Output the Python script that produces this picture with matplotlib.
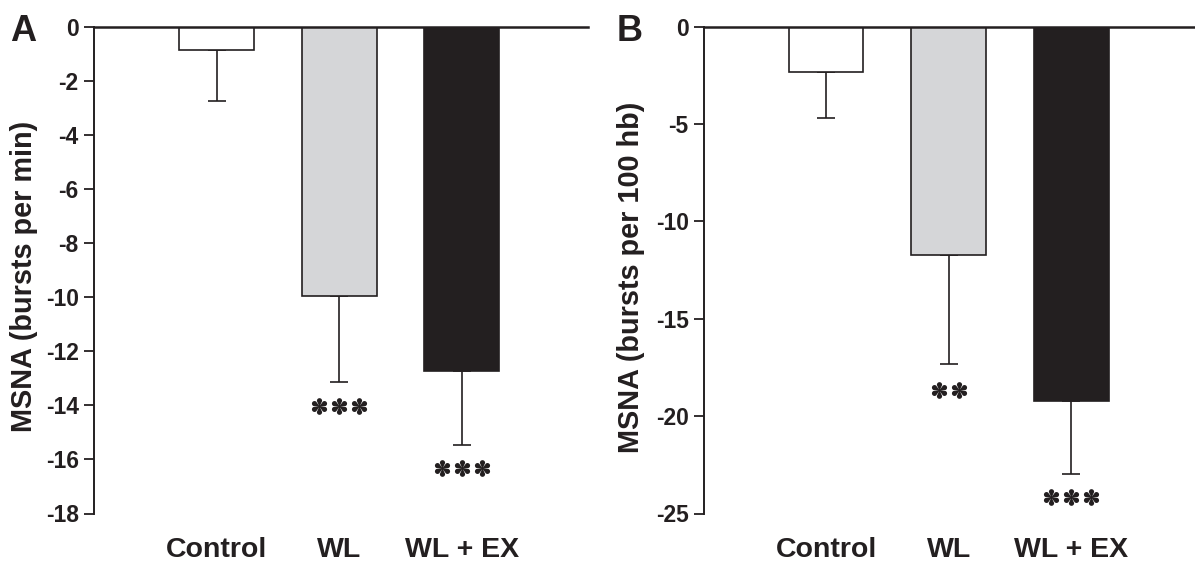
import numpy as np
import matplotlib
matplotlib.use("Agg")
import matplotlib.pyplot as plt
from matplotlib.path import Path
from matplotlib.transforms import offset_copy

# ---------------- data ----------------
categories = ["Control", "WL", "WL + EX"]
a_means = [-0.88, -9.95, -12.72]
a_sem = [1.87, 3.20, 2.73]
a_stars = ["", "***", "***"]
a_ticks = [0, -2, -4, -6, -8, -10, -12, -14, -16, -18]

b_means = [-2.35, -11.75, -19.2]
b_sem = [2.35, 5.55, 3.78]
b_stars = ["", "**", "***"]
b_ticks = [0, -5, -10, -15, -20, -25]

# ---------------- style ----------------
plt.rcParams['font.family'] = ['Liberation Sans', 'DejaVu Sans']
plt.rcParams['font.weight'] = 'bold'
INK = '#231f20'
bar_colors = ['#ffffff', '#d5d6d8', '#231f20']


# custom six-lobed asterisk marker
def asterisk_path():
    verts = []
    d, r = 0.64, 0.29
    for i in range(6):
        th = np.deg2rad(90 + 60 * i)
        inner = th - np.deg2rad(30)
        verts.append((0.1 * np.cos(inner), 0.1 * np.sin(inner)))
        cx, cy = d * np.cos(th), d * np.sin(th)
        for ph in np.linspace(th - np.deg2rad(100), th + np.deg2rad(100), 16):
            verts.append((cx + r * np.cos(ph), cy + r * np.sin(ph)))
    verts.append(verts[0])
    codes = [Path.MOVETO] + [Path.LINETO] * (len(verts) - 2) + [Path.CLOSEPOLY]
    return Path(verts, codes)


STAR = asterisk_path()

fig = plt.figure(figsize=(11.95, 5.63), dpi=100)

bottom = 1 - 513.5 / 563
height = (513.5 - 26.5) / 563
axA = fig.add_axes([94.3 / 1195, bottom, 493.7 / 1195, height])
axB = fig.add_axes([704.3 / 1195, bottom, 490.7 / 1195, height])


def draw(ax, means, sem, stars, ticks, ylabel, xlim, star_off, label_x):
    x = np.arange(len(categories))
    ax.bar(x, means, width=0.61, color=bar_colors, edgecolor=INK,
           linewidth=1.2, zorder=2)
    lows = [m - s for m, s in zip(means, sem)]
    ax.errorbar(x, means, yerr=[sem, [0] * len(sem)], fmt='none',
                ecolor=INK, elinewidth=1.2, capsize=6.8, capthick=1.2,
                zorder=1, clip_on=False)
    ax.set_xlim(*xlim)
    ax.set_ylim(ticks[-1], 0)
    ax.set_yticks(ticks)
    ax.set_yticklabels([str(t) for t in ticks])
    ax.set_xticks(x)
    ax.set_xticklabels(categories, fontsize=20.5, fontweight='bold', color=INK)
    ax.tick_params(axis='x', length=0, pad=17)
    ax.tick_params(axis='y', length=7.2, width=1.3, pad=4, labelsize=16.5,
                   colors=INK)
    for lab in ax.get_yticklabels():
        lab.set_fontweight('bold')
    ax.spines['right'].set_visible(False)
    ax.spines['bottom'].set_visible(False)
    ax.spines['left'].set_linewidth(1.4)
    ax.spines['left'].set_color(INK)
    ax.spines['top'].set_linewidth(1.8)
    ax.spines['top'].set_color(INK)
    ax.set_ylabel(ylabel, fontsize=20.8, fontweight='bold', color=INK)
    ax.yaxis.set_label_coords(label_x, 0.486)
    # significance stars
    for xi, lo, st, off in zip(x, lows, stars, star_off):
        n = len(st)
        if n == 0:
            continue
        tr = offset_copy(ax.transData, fig=fig, y=-off, units='dots')
        dx = 0.163
        xs = xi + (np.arange(n) - (n - 1) / 2) * dx
        ax.plot(xs, [lo] * n, linestyle='none', marker=STAR, markersize=12,
                color=INK, markeredgewidth=0, transform=tr, clip_on=False)


draw(axA, a_means, a_sem, a_stars, a_ticks, 'MSNA (bursts per min)',
     (-1.0, 3.03), [0, 23.5, 23.5], -0.114)
draw(axB, b_means, b_sem, b_stars, b_ticks, 'MSNA (bursts per 100 hb)',
     (-0.993, 3.01), [0, 26, 22.7], -0.121)

fig.text(10 / 1195, 1 - 41 / 563, 'A', fontsize=26, fontweight='bold',
         color=INK, va='baseline', ha='left')
fig.text(617 / 1195, 1 - 41 / 563, 'B', fontsize=26, fontweight='bold',
         color=INK, va='baseline', ha='left')

fig.savefig('out.png', dpi=100)
